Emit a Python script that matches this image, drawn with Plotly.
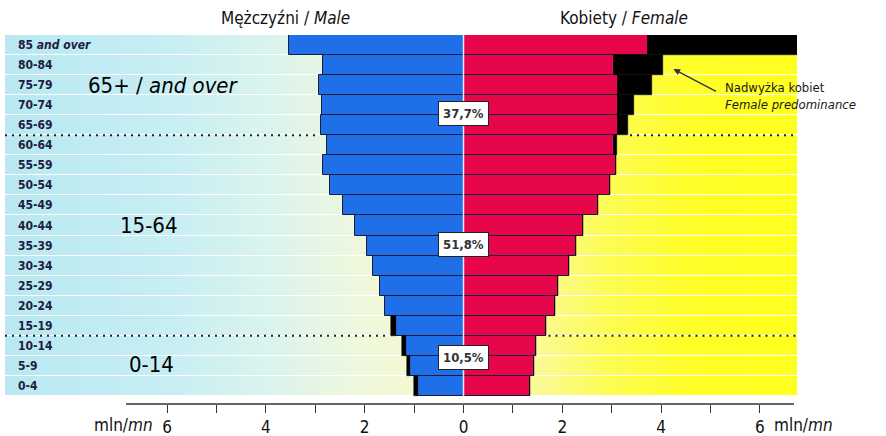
import numpy as np
import plotly.graph_objects as go

# age groups, bottom (0-4) to top (85+)
ages = ['0-4', '5-9', '10-14', '15-19', '20-24', '25-29', '30-34', '35-39', '40-44',
        '45-49', '50-54', '55-59', '60-64', '65-69', '70-74', '75-79', '80-84',
        '85 <i>and over</i>']

# population in mln
male = [0.93, 1.08, 1.17, 1.37, 1.59, 1.69, 1.83, 1.96, 2.19,
        2.44, 2.70, 2.85, 2.76, 2.88, 2.87, 2.93, 2.85, 3.53]
male_excess = [0.07, 0.07, 0.08, 0.10, 0, 0, 0, 0, 0,
               0, 0, 0, 0, 0, 0, 0, 0, 0]
female = [1.35, 1.42, 1.47, 1.67, 1.85, 1.92, 2.14, 2.28, 2.41,
          2.73, 2.97, 3.08, 3.05, 3.12, 3.13, 3.12, 3.04, 3.73]
female_excess = [0, 0, 0, 0, 0, 0, 0, 0, 0,
                 0, 0, 0, 0.05, 0.20, 0.32, 0.70, 0.99, 3.04]

# broad age groups: label, left edge, row position, share
group_labels = ['65+ / <i>and over</i>', '15-64', '0-14']
group_x = [-7.64, -7.0, -6.81]
group_rows = [15.0, 8.0, 1.05]
group_share = ['37,7%', '51,8%', '10,5%']
share_rows = [13.6, 7.03, 1.4]
split_rows = [12.5, 2.5]

tick_vals = list(range(-6, 7))
tick_text = ['6', '', '4', '', '2', '', '0', '', '2', '', '4', '', '6']

FONT = 'DejaVu Sans Condensed, Liberation Sans Narrow, sans-serif'
X_MIN, X_MAX = -9.28, 6.75
rows = list(range(len(ages)))

fig = go.Figure()

# gradient background (cyan -> cream -> yellow) with white row separators
gx = np.linspace(X_MIN, X_MAX, 240)
fig.add_trace(go.Heatmap(
    x=gx, y=rows, z=[gx for _ in rows],
    colorscale=[[0.0, '#b9e8f2'], [0.2, '#c6eef3'], [0.33, '#daf3ee'],
                [0.45, '#eff8dc'], [0.58, '#f9f9c6'], [0.67, '#fbfa98'],
                [0.76, '#fcfc55'], [0.86, '#fefe2a'], [1.0, '#ffff1e']],
    showscale=False, ygap=1, hoverinfo='skip'))

# dotted separators between broad age groups, stopping at the bars
for r in split_rows:
    lo, hi = int(r - 0.5), int(r + 0.5)
    left_end = -max(male[lo] + male_excess[lo], male[hi] + male_excess[hi])
    right_start = max(female[lo] + female_excess[lo], female[hi] + female_excess[hi])
    for xs in ([X_MIN, left_end - 0.08], [right_start + 0.05, X_MAX]):
        fig.add_trace(go.Scatter(x=xs, y=[r, r], mode='lines', hoverinfo='skip',
                                 line=dict(color='#222', width=2, dash='2px,5px'),
                                 showlegend=False))

outline = dict(color='#1a1a3a', width=1)
fig.add_trace(go.Bar(y=rows, x=[-v for v in male], orientation='h', width=1,
                     marker=dict(color='#1f6fe8', line=outline), hoverinfo='skip'))
fig.add_trace(go.Bar(y=rows, x=[-v for v in male_excess], orientation='h', width=1,
                     marker=dict(color='#000', line=dict(color='#000', width=0.5)),
                     hoverinfo='skip'))
fig.add_trace(go.Bar(y=rows, x=female, orientation='h', width=1,
                     marker=dict(color='#e8064b', line=outline), hoverinfo='skip'))
fig.add_trace(go.Bar(y=rows, x=female_excess, orientation='h', width=1,
                     marker=dict(color='#000', line=dict(color='#000', width=0.5)),
                     hoverinfo='skip'))

# thin light line on the centre axis
fig.add_shape(type='line', x0=0, x1=0, y0=-0.5, y1=17.5, layer='above',
              line=dict(color='#e8e8f0', width=1.5))
# bottom axis line
fig.add_shape(type='line', x0=-6.83, x1=6.69, y0=0, y1=0, yref='paper',
              line=dict(color='#333', width=1.5))

annotations = []
for r, a in zip(rows, ages):
    annotations.append(dict(x=-9.05, y=r, text='<b>' + a + '</b>', showarrow=False,
                            xanchor='left', yanchor='middle',
                            font=dict(size=12, color='#1c2040', family=FONT)))
for lab, gxl, r in zip(group_labels, group_x, group_rows):
    annotations.append(dict(x=gxl, y=r, text=lab, showarrow=False,
                            xanchor='left', yanchor='middle',
                            font=dict(size=22, color='#000', family=FONT)))
for s, r in zip(group_share, share_rows):
    annotations.append(dict(x=0, y=r, text='<b>' + s + '</b>', showarrow=False,
                            bgcolor='white', bordercolor='#222', borderwidth=1,
                            borderpad=4, font=dict(size=13, color='#333', family=FONT)))

annotations += [
    dict(x=-3.6, y=1.046, yref='paper', yanchor='middle', text='Mężczyźni / <i>Male</i>',
         showarrow=False, font=dict(size=17, color='#111', family=FONT)),
    dict(x=3.25, y=1.046, yref='paper', yanchor='middle', text='Kobiety / <i>Female</i>',
         showarrow=False, font=dict(size=17, color='#111', family=FONT)),
    dict(x=5.26, y=14.46, text='Nadwyżka kobiet<br><i>Female predominance</i>',
         showarrow=False, xanchor='left', yanchor='middle', align='left',
         font=dict(size=13, color='#1a1a1a', family=FONT)),
    dict(x=4.25, y=15.8, text='', showarrow=True, ax=44, ay=23, arrowhead=2,
         arrowsize=1, arrowwidth=1.3, arrowcolor='#333'),
    dict(x=-6.25, y=-0.058, yref='paper', text='mln/<i>mn</i>', showarrow=False,
         xanchor='right', yanchor='middle', font=dict(size=17, color='#111', family=FONT)),
    dict(x=6.25, y=-0.058, yref='paper', text='mln/<i>mn</i>', showarrow=False,
         xanchor='left', yanchor='middle', font=dict(size=17, color='#111', family=FONT)),
]

fig.update_layout(
    width=886, height=436,
    margin=dict(l=5, r=89, t=35, b=32),
    barmode='relative', bargap=0,
    showlegend=False,
    plot_bgcolor='white', paper_bgcolor='white',
    annotations=annotations,
    xaxis=dict(range=[X_MIN, X_MAX], showgrid=False, zeroline=False, showline=False,
               tickvals=tick_vals, ticktext=tick_text, ticks='outside', ticklen=8,
               tickcolor='#333', tickwidth=1, automargin=False,
               tickfont=dict(size=17, color='#111', family=FONT)),
    yaxis=dict(range=[-0.9, 17.5], visible=False),
)

fig.write_html('out.html', config={'displayModeBar': False},
               post_script="document.body.style.margin='0';")
